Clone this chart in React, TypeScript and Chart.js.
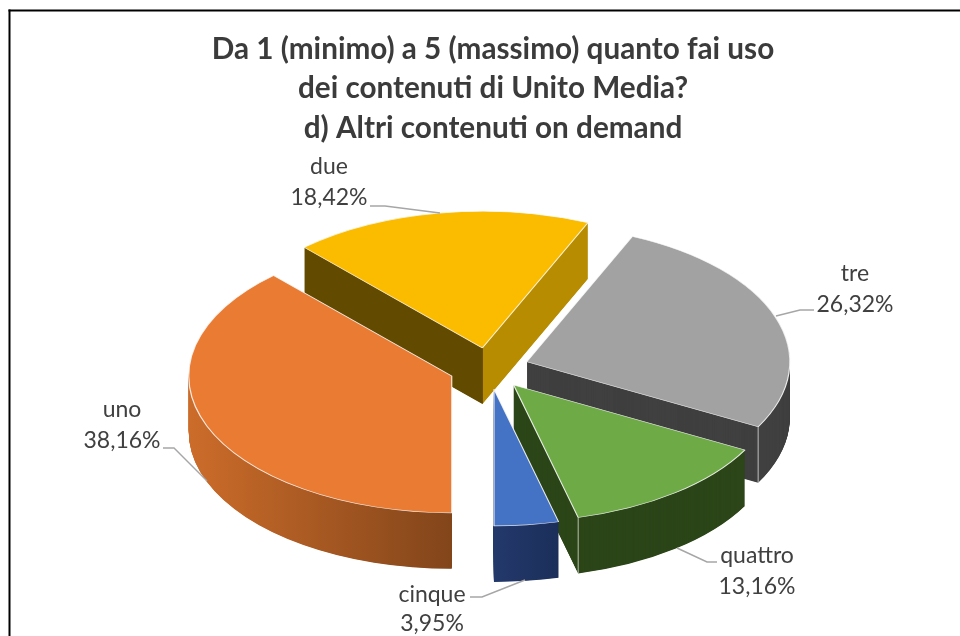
import React, { useEffect, useRef } from "react";
import { Chart, registerables } from "chart.js";

Chart.register(...registerables);

const titleLines = [
  "Da 1 (minimo) a 5 (massimo) quanto fai uso",
  "dei contenuti di Unito Media?",
  "d) Altri contenuti on demand",
];
const categories = ["uno", "due", "tre", "quattro", "cinque"];
const percentages = [38.16, 18.42, 26.32, 13.16, 3.95];
const topColors = ["#EA7B33", "#FBBC00", "#A2A2A2", "#6EAB47", "#4472C4"];
const wallLeftColors = ["#CC6C2A", "#624A00", "#404040", "#2C4619", "#23396B"];
const wallRightColors = ["#82451A", "#B88C00", "#404040", "#2C4619", "#1B2E59"];
const paintOrder = [1, 2, 0, 3, 4];

const labelCenters = [
  [122, 410, 441],
  [329, 167, 198],
  [855, 274, 305],
  [757, 556, 587],
  [432, 595, 624],
];
const leaders = [
  [[163, 448], [174, 448], [207, 481]],
  [[370, 206], [385, 206], [440, 213]],
  [[814, 310], [800, 310], [776, 316]],
  [[717, 562], [707, 562], [677, 548]],
  [[470, 597], [482, 597], [525, 580]],
];

const pieCenter = { x: 489, y: 368.5 };
const radius = 263;
const tilt = 0.52;
const explode = 40;
const depth = 56;

const pie3d = {
  id: "pie3d",
  beforeDraw(chart: any) {
    const c = chart.ctx;
    c.save();
    c.fillStyle = "#000";
    c.fillRect(8.5, 9.5, 2, chart.height);
    c.fillRect(8.5, 9.5, chart.width, 2);
    c.restore();
  },
  beforeDatasetsDraw(chart: any) {
    const c = chart.ctx;
    const arcs = chart.getDatasetMeta(0).data;
    for (const i of paintOrder) {
      const arc = arcs[i];
      const mid = (arc.startAngle + arc.endAngle) / 2;
      const place = (d: number) => {
        c.translate(pieCenter.x, pieCenter.y + d);
        c.scale(1, tilt);
        c.translate(Math.cos(mid) * explode, Math.sin(mid) * explode);
        c.translate(-arc.x, -arc.y);
      };
      // the side walls: the library's arc swept downwards
      for (let d = depth; d >= 0.5; d -= 0.5) {
        c.save();
        place(d);
        let fill: any = wallLeftColors[i];
        const g = (l: number, r: number) => c.createLinearGradient(arc.x + l, 0, arc.x + r, 0);
        if (i === 0) {
          fill = g(-radius, 0);
          fill.addColorStop(0, wallLeftColors[i]);
          fill.addColorStop(1, wallRightColors[i]);
        } else if (i === 1) {
          fill = g(0, 1);
          fill.addColorStop(0, wallLeftColors[i]);
          fill.addColorStop(1, wallRightColors[i]);
        } else if (i === 4) {
          fill = g(0, 70);
          fill.addColorStop(0, wallLeftColors[i]);
          fill.addColorStop(1, wallRightColors[i]);
        }
        const wall = Object.create(arc);
        wall.options = {
          backgroundColor: fill,
          borderColor: "transparent",
          borderWidth: 0,
          borderAlign: "center",
          borderRadius: 0,
          offset: 0,
          spacing: 0,
          circular: true,
        };
        wall.draw(c);
        c.restore();
      }
      // a light edge at the front corner of the wall
      const ox = pieCenter.x + Math.cos(mid) * explode + Math.cos(arc.endAngle) * radius;
      const oy = pieCenter.y + (Math.sin(mid) * explode + Math.sin(arc.endAngle) * radius) * tilt;
      if (i === 2 || i === 3) {
        c.save();
        c.strokeStyle = "rgba(235,235,235,0.75)";
        c.lineWidth = 1;
        c.beginPath();
        c.moveTo(ox, oy);
        c.lineTo(ox, oy + depth);
        c.stroke();
        c.restore();
      }
      // the top face
      c.save();
      place(0);
      arc.draw(c);
      c.restore();
    }
    return false;
  },
  afterDraw(chart: any) {
    const c = chart.ctx;
    const values = chart.data.datasets[0].data;
    c.save();
    c.strokeStyle = "#A6A6A6";
    c.lineWidth = 1.4;
    for (const pts of leaders) {
      c.beginPath();
      pts.forEach(([x, y], k) => (k ? c.lineTo(x, y) : c.moveTo(x, y)));
      c.stroke();
    }
    c.fillStyle = "#404040";
    c.font = "23px Lato";
    c.textAlign = "center";
    c.textBaseline = "middle";
    chart.data.labels.forEach((name: string, i: number) => {
      const [x, y1, y2] = labelCenters[i];
      c.fillText(name, x, y1);
      c.fillText(values[i].toFixed(2).replace(".", ",") + "%", x, y2);
    });
    c.restore();
  },
};

export default function App() {
  const ref = useRef<HTMLCanvasElement>(null);
  useEffect(() => {
    document.body.style.margin = "0";
    document.body.style.background = "#fff";
    const chart = new Chart(ref.current as HTMLCanvasElement, {
      type: "pie",
      data: {
        labels: categories,
        datasets: [
          {
            data: percentages,
            backgroundColor: topColors,
            borderColor: "rgba(250,250,250,0.9)",
            borderWidth: 1.2,
          },
        ],
      },
      plugins: [pie3d],
      options: {
        animation: false,
        responsive: false,
        rotation: 180,
        radius,
        layout: { padding: { left: 26, top: 0, right: 0, bottom: 0 } },
        plugins: {
          legend: { display: false },
          tooltip: { enabled: false },
          title: {
            display: true,
            text: titleLines,
            color: "#3B3B3B",
            font: { family: "Lato", size: 29.7, weight: "bold", lineHeight: 1.32 },
            padding: { top: 30, bottom: 0 },
          },
        },
      },
    } as any);
    return () => chart.destroy();
  }, []);
  return (
    <div style={{ width: 960, height: 636, overflow: "hidden", background: "#fff" }}>
      <canvas
        ref={ref}
        width={960}
        height={636}
        style={{ display: "block", width: 960, height: 636, filter: "blur(0.45px)" }}
      />
    </div>
  );
}
